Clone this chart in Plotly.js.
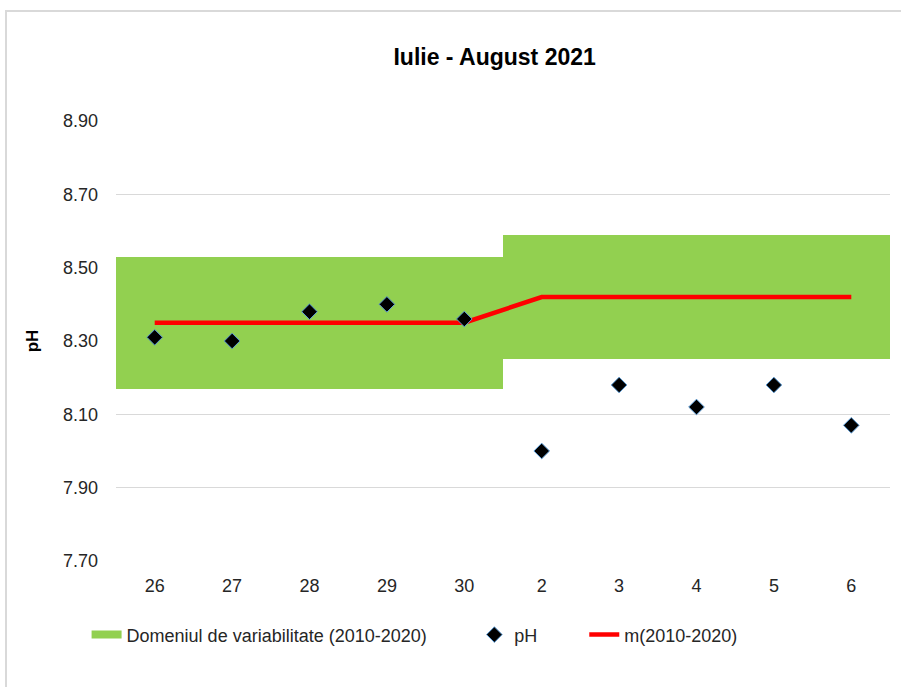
<!DOCTYPE html>
<html>
<head>
<meta charset="utf-8">
<script src="https://cdn.plot.ly/plotly-3.0.1.min.js"></script>
<style>
  html, body { margin: 0; padding: 0; background: #fff; }
  #wrap { position: relative; width: 901px; height: 687px; overflow: hidden; }
  #chart { width: 901px; height: 687px; }
  #frame { position: absolute; left: 5px; top: 10px; width: 910px; height: 700px;
           border: 2px solid #d9d9d9; pointer-events: none; box-sizing: border-box; }
</style>
</head>
<body>
<div id="wrap">
  <div id="chart"></div>
  <div id="frame"></div>
</div>
<script>
// Data
const categories = ["26", "27", "28", "29", "30", "2", "3", "4", "5", "6"];
const rangeLow  = [8.17, 8.17, 8.17, 8.17, 8.17, 8.25, 8.25, 8.25, 8.25, 8.25];
const rangeHigh = [8.53, 8.53, 8.53, 8.53, 8.53, 8.59, 8.59, 8.59, 8.59, 8.59];
const phValues  = [8.31, 8.30, 8.38, 8.40, 8.36, 8.00, 8.18, 8.12, 8.18, 8.07];
const meanValues = [8.35, 8.35, 8.35, 8.35, 8.35, 8.42, 8.42, 8.42, 8.42, 8.42];
const yTicks = [7.70, 7.90, 8.10, 8.30, 8.50, 8.70, 8.90];

const font = "Liberation Sans, Arial, sans-serif";
const green = "#92D050";

const traces = [
  {
    type: "bar", x: categories,
    base: rangeLow,
    y: rangeHigh.map((h, i) => h - rangeLow[i]),
    width: 1, marker: { color: green, line: { width: 0 } },
    name: "Domeniul de variabilitate (2010-2020)", showlegend: false,
    hoverinfo: "skip"
  },
  {
    type: "scatter", mode: "lines", x: [null], y: [null],
    line: { color: green, width: 8 },
    name: "Domeniul de variabilitate (2010-2020)", legend: "legend"
  },
  {
    type: "scatter", mode: "markers", x: categories, y: phValues, name: "pH",
    marker: { symbol: "diamond", size: 12, color: "#000000", line: { color: "#5B9BD5", width: 1 } },
    legend: "legend2"
  },
  {
    type: "scatter", mode: "lines", x: categories, y: meanValues, name: "m(2010-2020)",
    line: { color: "#FF0000", width: 4.5 },
    legend: "legend3"
  }
];
// draw mean line under the markers
const ordered = [traces[0], traces[1], traces[3], traces[2]];

const legendBase = {
  orientation: "h", yanchor: "middle", y: -0.168, xanchor: "left",
  font: { family: font, size: 18, color: "#262626" }, bgcolor: "rgba(0,0,0,0)"
};

const layout = {
  width: 901, height: 687,
  margin: { l: 116, r: 11, t: 121, b: 126 },
  paper_bgcolor: "#ffffff", plot_bgcolor: "#ffffff",
  font: { family: font, size: 18, color: "#262626" },
  title: {
    text: "<b>Iulie - August 2021</b>",
    font: { family: font, size: 23, color: "#000000" },
    x: 0.549, xref: "container", xanchor: "center",
    y: 0.917, yref: "container", yanchor: "middle"
  },
  bargap: 0,
  xaxis: {
    type: "category", categoryorder: "array", categoryarray: categories,
    showgrid: false, zeroline: false, showline: false, ticks: "",
    ticklabelstandoff: 12,
    tickfont: { family: font, size: 18, color: "#262626" },
    range: [-0.5, 9.5], fixedrange: true
  },
  yaxis: {
    range: [7.7, 8.9], tickvals: yTicks, ticktext: yTicks.map(v => v.toFixed(2)),
    showgrid: true, gridcolor: "#d9d9d9", gridwidth: 1,
    zeroline: false, showline: false, ticks: "",
    ticklabelstandoff: 17,
    tickfont: { family: font, size: 18, color: "#262626" },
    title: { text: "<b>pH</b>", font: { family: font, size: 17, color: "#000000" }, standoff: 20 },
    fixedrange: true
  },
  legend: Object.assign({}, legendBase, { x: -0.038 }),
  legend2: Object.assign({}, legendBase, { x: 0.463 }),
  legend3: Object.assign({}, legendBase, { x: 0.605 }),
  showlegend: true
};

Plotly.newPlot("chart", ordered, layout, { displayModeBar: false, staticPlot: true });
</script>
</body>
</html>
